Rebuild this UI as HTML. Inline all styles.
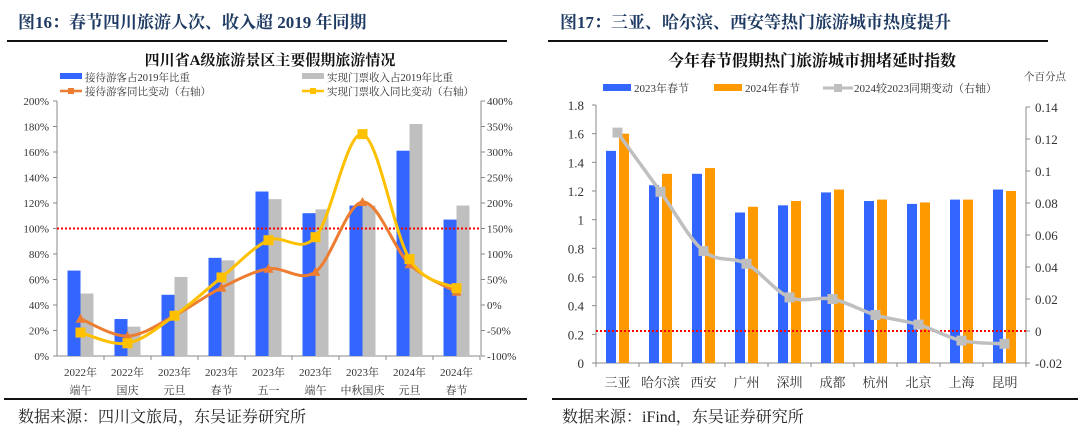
<!DOCTYPE html>
<html><head><meta charset="utf-8"><style>
body{margin:0;width:1080px;height:440px;background:#fff;overflow:hidden;font-family:"Liberation Serif","Noto Serif CJK SC",serif;}
.t{position:absolute;font-size:17px;font-weight:bold;color:#1f3b63;top:8px;white-space:nowrap}
.rule{position:absolute;height:2px;background:#111}
.src{position:absolute;top:404px;font-size:16px;color:#222;white-space:nowrap}
svg text{font-family:"Liberation Serif","Noto Serif CJK SC",serif;fill:#333}
</style></head><body>
<div class="t" style="left:18px">图16：春节四川旅游人次、收入超 2019 年同期</div>
<div class="t" style="left:560px">图17：三亚、哈尔滨、西安等热门旅游城市热度提升</div>
<div class="rule" style="left:7px;top:40px;width:500px"></div>
<div class="rule" style="left:548px;top:40px;width:500px"></div>
<div class="rule" style="left:4px;top:398px;width:523px"></div>
<div class="rule" style="left:552px;top:398px;width:526px"></div>
<div class="src" style="left:18px">数据来源：四川文旅局，东吴证券研究所</div>
<div class="src" style="left:562px">数据来源：iFind，东吴证券研究所</div>
<svg id="c1" width="540" height="400" style="position:absolute;left:0;top:0"></svg>
<svg id="c2" width="1080" height="400" style="position:absolute;left:0;top:0"></svg>
<script>
const cats1=[["2022年","端午"],["2022年","国庆"],["2023年","元旦"],["2023年","春节"],["2023年","五一"],["2023年","端午"],["2023年","中秋国庆"],["2024年","元旦"],["2024年","春节"]];
const visitorShare=[67,29,48,77,129,112,118,161,107];
const ticketShare=[49,23,62,75,123,115,118,182,118];
const visitorYoY=[-27,-61,-21,34,71,65,202,80,26];
const ticketYoY=[-54,-75,-21,54,127,133,335,90,33];
const leftTicks1=[0,20,40,60,80,100,120,140,160,180,200];
const rightTicks1=[-100,-50,0,50,100,150,200,250,300,350,400];

const cats2=["三亚","哈尔滨","西安","广州","深圳","成都","杭州","北京","上海","昆明"];
const idx2023=[1.48,1.24,1.32,1.05,1.10,1.19,1.13,1.11,1.14,1.21];
const idx2024=[1.60,1.32,1.36,1.09,1.13,1.21,1.14,1.12,1.14,1.20];
const change=[0.124,0.087,0.050,0.042,0.021,0.020,0.010,0.004,-0.006,-0.008];
const leftTicks2=[0,0.2,0.4,0.6,0.8,1,1.2,1.4,1.6,1.8];
const rightTicks2=[-0.02,0,0.02,0.04,0.06,0.08,0.1,0.12,0.14];

const NS="http://www.w3.org/2000/svg";
function mk(svg,tag,attrs,txt){const e=document.createElementNS(NS,tag);for(const k in attrs)e.setAttribute(k,attrs[k]);if(txt!==undefined)e.textContent=txt;svg.appendChild(e);return e;}
function smooth(pts){let d="M"+pts[0][0]+","+pts[0][1];for(let i=0;i<pts.length-1;i++){const p0=pts[i-1]||pts[i],p1=pts[i],p2=pts[i+1],p3=pts[i+2]||p2;const t=6;d+=" C"+(p1[0]+(p2[0]-p0[0])/t)+","+(p1[1]+(p2[1]-p0[1])/t)+" "+(p2[0]-(p3[0]-p1[0])/t)+","+(p2[1]-(p3[1]-p1[1])/t)+" "+p2[0]+","+p2[1];}return d;}

// Chart 1
(function(){
const s=document.getElementById('c1');
const X0=57,X1=480,Y0=356,Y1=101,RA=481;
const bw=(X1-X0)/cats1.length;
const yL=v=>Y0-(v-0)/200*(Y0-Y1);
const yR=v=>Y0-(v+100)/500*(Y0-Y1);
const cx=i=>X0+bw*(i+0.5);
let e=mk(s,'text',{x:270,y:65,'text-anchor':'middle','font-size':15,'font-weight':'bold',style:'fill:#111'},'四川省A级旅游景区主要假期旅游情况');

// legend
const lg=[[60,'rect','#3366ff','接待游客占2019年比重',77],[302,'rect','#bfbfbf','实现门票收入占2019年比重',77],[60,'line','#ed7d31','接待游客同比变动（右轴）',91],[302,'line','#ffc000','实现门票收入同比变动（右轴）',91]];
lg.forEach((l,i)=>{const g=mk(s,'g',{});
 if(l[1]=='rect')mk(g,'rect',{x:l[0],y:l[4]-4,width:22,height:6,fill:l[2]});else{mk(g,'line',{x1:l[0],x2:l[0]+22,y1:l[4],y2:l[4],stroke:l[2],'stroke-width':2.5});mk(g,'rect',{x:l[0]+8,y:l[4]-3,width:6,height:6,fill:l[2]});}
 mk(g,'text',{x:l[0]+25,y:l[4]+4,'font-size':10.5},l[3]);});
// axes
mk(s,'line',{x1:X0,x2:X0,y1:Y1,y2:Y0,stroke:'#888'});
mk(s,'line',{x1:RA,x2:RA,y1:Y1,y2:Y0,stroke:'#888'});
mk(s,'line',{x1:X0,x2:X1,y1:Y0,y2:Y0,stroke:'#888'});
leftTicks1.forEach(v=>{mk(s,'line',{x1:X0-4,x2:X0,y1:yL(v),y2:yL(v),stroke:'#888'});const t=mk(s,'text',{x:X0-8,y:yL(v)+4,'text-anchor':'end','font-size':11},v+'%');});
rightTicks1.forEach(v=>{mk(s,'line',{x1:RA,x2:RA+4,y1:yR(v),y2:yR(v),stroke:'#888'});const t=mk(s,'text',{x:RA+6,y:yR(v)+4,'font-size':11},v+'%');});
cats1.forEach((c,i)=>{mk(s,'line',{x1:X0+bw*(i+1),x2:X0+bw*(i+1),y1:Y0,y2:Y0+4,stroke:'#888'});
 const t=mk(s,'text',{x:cx(i),y:Y0+20,'text-anchor':'middle','font-size':11},c[0]);
 mk(s,'text',{x:cx(i),y:Y0+38,'text-anchor':'middle','font-size':11},c[1]);
 let b=mk(s,'rect',{x:cx(i)-13,y:yL(visitorShare[i]),width:13,height:Y0-yL(visitorShare[i]),fill:'#3366ff'});
 b=mk(s,'rect',{x:cx(i),y:yL(ticketShare[i]),width:13,height:Y0-yL(ticketShare[i]),fill:'#bfbfbf'});
});
e=mk(s,'line',{x1:X0,x2:X1,y1:yL(100),y2:yL(100),stroke:'#ff0000','stroke-width':2,'stroke-dasharray':'2,2'});
const p1=visitorYoY.map((v,i)=>[cx(i),yR(v)]);
e=mk(s,'path',{d:smooth(p1),fill:'none',stroke:'#ed7d31','stroke-width':3});
p1.forEach(p=>{const m=mk(s,'polygon',{points:(p[0]-5)+','+(p[1]+4)+' '+(p[0]+5)+','+(p[1]+4)+' '+p[0]+','+(p[1]-5),fill:'#ed7d31'});});
const p2=ticketYoY.map((v,i)=>[cx(i),yR(v)]);
e=mk(s,'path',{d:smooth(p2),fill:'none',stroke:'#ffc000','stroke-width':3});
p2.forEach(p=>{const m=mk(s,'rect',{x:p[0]-5,y:p[1]-5,width:10,height:10,fill:'#ffc000'});});
})();

// Chart 2
(function(){
const s=document.getElementById('c2');
const X0=596,X1=1026,Y0=363,Y1=105;
const bw=(X1-X0)/cats2.length;
const yL=v=>Y0-v/1.8*(Y0-Y1);
const yR=v=>331-v/0.02*32;
const cx=i=>X0+bw*(i+0.5);
let e=mk(s,'text',{x:812,y:66,'text-anchor':'middle','font-size':16,'font-weight':'bold',style:'fill:#111'},'今年春节假期热门旅游城市拥堵延时指数');

e=mk(s,'text',{x:1045,y:80,'text-anchor':'middle','font-size':10.5},'个百分点');
const lg=[[603,'rect','#3366ff','2023年春节'],[714,'rect','#ff9900','2024年春节'],[823,'line','#bfbfbf','2024较2023同期变动（右轴）']];
lg.forEach(l=>{const g=mk(s,'g',{});
 if(l[1]=='rect')mk(g,'rect',{x:l[0],y:84,width:28,height:7,fill:l[2]});else{mk(g,'line',{x1:l[0],x2:l[0]+30,y1:88,y2:88,stroke:l[2],'stroke-width':3});mk(g,'rect',{x:l[0]+11,y:84,width:8,height:8,fill:l[2]});}
 mk(g,'text',{x:l[0]+31,y:92,'font-size':11},l[3]);});
mk(s,'line',{x1:X0,x2:X0,y1:Y1,y2:Y0,stroke:'#888'});
mk(s,'line',{x1:X1,x2:X1,y1:yR(0.14),y2:Y0,stroke:'#888'});
mk(s,'line',{x1:X0,x2:X1,y1:Y0,y2:Y0,stroke:'#888'});
leftTicks2.forEach(v=>{mk(s,'line',{x1:X0-4,x2:X0,y1:yL(v),y2:yL(v),stroke:'#888'});const t=mk(s,'text',{x:X0-12,y:yL(v)+5,'text-anchor':'end','font-size':13},String(v));});
rightTicks2.forEach(v=>{mk(s,'line',{x1:X1,x2:X1+4,y1:yR(v),y2:yR(v),stroke:'#888'});const t=mk(s,'text',{x:X1+9,y:yR(v)+5,'font-size':13},String(v));});
cats2.forEach((c,i)=>{mk(s,'line',{x1:X0+bw*i,x2:X0+bw*i,y1:Y0,y2:Y0+4,stroke:'#888'});
 const t=mk(s,'text',{x:cx(i),y:Y0+24,'text-anchor':'middle','font-size':13},c);
 let b=mk(s,'rect',{x:cx(i)-11.5,y:yL(idx2023[i]),width:10,height:Y0-yL(idx2023[i]),fill:'#3366ff'});
 b=mk(s,'rect',{x:cx(i)+1.5,y:yL(idx2024[i]),width:10,height:Y0-yL(idx2024[i]),fill:'#ff9900'});
});
mk(s,'line',{x1:X1,x2:X1,y1:Y0,y2:Y0+4,stroke:'#888'});
e=mk(s,'line',{x1:X0,x2:X1,y1:yR(0),y2:yR(0),stroke:'#ff0000','stroke-width':2,'stroke-dasharray':'2,2'});
const pts=change.map((v,i)=>[cx(i),yR(v)]);
e=mk(s,'path',{d:smooth(pts),fill:'none',stroke:'#bfbfbf','stroke-width':3.5});
pts.forEach(p=>{const m=mk(s,'rect',{x:p[0]-5,y:p[1]-5,width:10,height:10,fill:'#bfbfbf'});});
})();
</script>
</body></html>
